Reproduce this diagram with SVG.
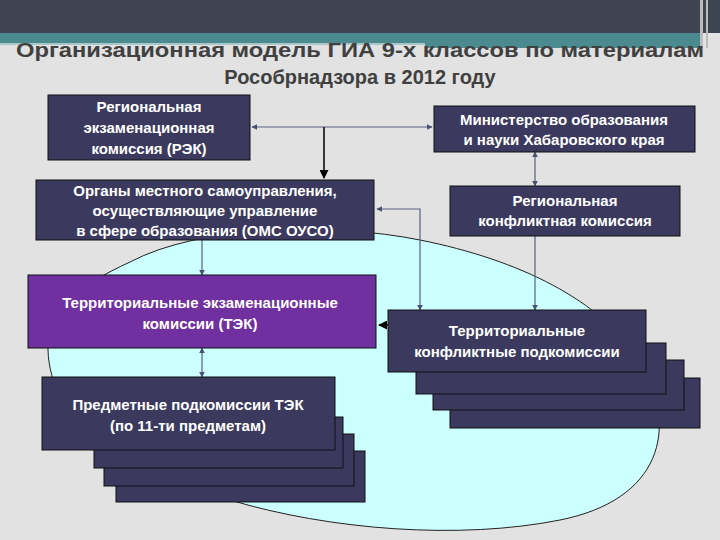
<svg xmlns="http://www.w3.org/2000/svg" width="720" height="540" viewBox="0 0 720 540">
<defs>
<marker id="a" viewBox="0 0 10 10" refX="9" refY="5" markerWidth="5" markerHeight="5" orient="auto-start-reverse"><path d="M0,0L10,5L0,10z" fill="#4a5070"/></marker>
<marker id="b" viewBox="0 0 10 10" refX="9" refY="5" markerWidth="6" markerHeight="6" orient="auto-start-reverse"><path d="M0,0L10,5L0,10z" fill="#000"/></marker>
</defs>
<style>
.n{fill:#3b3a5e;stroke:#111;stroke-width:1}
.p{fill:#7030a0;stroke:#111;stroke-width:1}
.t{font-family:"Liberation Sans",Arial,sans-serif;font-weight:bold;font-size:15px;fill:#fff;text-anchor:middle}
.c{fill:none;stroke:#5a6080;stroke-width:1.2}
.h{font-family:"Liberation Sans",Arial,sans-serif;font-weight:bold;font-size:20px;fill:#404040;text-anchor:middle}
</style>
<rect width="720" height="540" fill="#e2e2e2"/>
<rect width="720" height="33" fill="#3f4452"/>
<rect y="33" width="700" height="10" fill="#4b8a8e"/>
<rect x="425" y="43" width="275" height="5" fill="#4b8a8e"/>
<rect x="0" y="43" width="425" height="2" fill="#a9c7c9"/>
<rect x="700" y="0" width="3" height="48" fill="#bbb"/>
<rect x="706" y="0" width="2" height="48" fill="#bbb"/>
<text class="h" x="360" y="57" textLength="688" lengthAdjust="spacingAndGlyphs">Организационная модель ГИА 9-х классов  по материалам</text>
<text class="h" x="360" y="84">Рособрнадзора в 2012 году</text>
<path d="M130,262 C200,225 330,222 420,240 C520,260 600,300 640,360 C680,430 660,500 560,520 C460,540 330,530 230,500 C120,470 50,420 48,350 C45,310 80,285 130,262 Z" fill="#ccffff" stroke="#222" stroke-width="1"/>
<g id="conn">
<path class="c" d="M324,127H252" marker-end="url(#a)"/>
<path class="c" d="M324,127H432" marker-end="url(#a)"/>
<path d="M324,127V178" stroke="#000" stroke-width="1.5" marker-end="url(#b)"/>
<path class="c" d="M535,152V186" marker-start="url(#a)" marker-end="url(#a)"/>
<path class="c" d="M420,310V209H377" marker-start="url(#a)" marker-end="url(#a)"/>
<path class="c" d="M535,236V310" marker-end="url(#a)"/>
<path class="c" d="M202,240V275" marker-end="url(#a)"/>
<path class="c" d="M202,348V377" marker-start="url(#a)" marker-end="url(#a)"/>
<path d="M388,325H379" stroke="#000" stroke-width="1.5" marker-end="url(#b)"/>
</g>
<g id="rek"><rect class="n" x="48" y="95" width="202" height="65"/>
<text class="t" x="149" y="112">Региональная</text><text class="t" x="149" y="133">экзаменационная</text><text class="t" x="149" y="154">комиссия (РЭК)</text></g>
<g id="min"><rect class="n" x="434" y="106" width="261" height="46"/>
<text class="t" x="564" y="125">Министерство образования</text><text class="t" x="564" y="145">и науки Хабаровского края</text></g>
<g id="oms"><rect class="n" x="36" y="180" width="338" height="60"/>
<text class="t" x="205" y="196">Органы местного самоуправления,</text><text class="t" x="205" y="216">осуществляющие управление</text><text class="t" x="205" y="236">в сфере образования (ОМС ОУСО)</text></g>
<g id="rkk"><rect class="n" x="450" y="186" width="230" height="50"/>
<text class="t" x="565" y="206">Региональная</text><text class="t" x="565" y="226">конфликтная комиссия</text></g>
<g id="tek"><rect class="p" x="28" y="275" width="348" height="73"/>
<text class="t" x="200" y="308">Территориальные экзаменационные</text><text class="t" x="200" y="329">комиссии (ТЭК)</text></g>
<g id="tkp">
<rect class="n" x="450" y="378" width="250" height="50"/>
<rect class="n" x="433" y="360" width="251" height="50"/>
<rect class="n" x="416" y="343" width="250" height="51"/>
<rect class="n" x="388" y="310" width="258" height="62"/>
<text class="t" x="517" y="336">Территориальные</text><text class="t" x="517" y="357">конфликтные подкомиссии</text></g>
<g id="pp">
<rect class="n" x="116" y="451" width="249" height="51"/>
<rect class="n" x="104" y="434" width="250" height="52"/>
<rect class="n" x="94" y="417" width="249" height="51"/>
<rect class="n" x="42" y="377" width="293" height="73"/>
<text class="t" x="188" y="410">Предметные подкомиссии ТЭК</text><text class="t" x="188" y="431">(по 11-ти предметам)</text></g>
</svg>
